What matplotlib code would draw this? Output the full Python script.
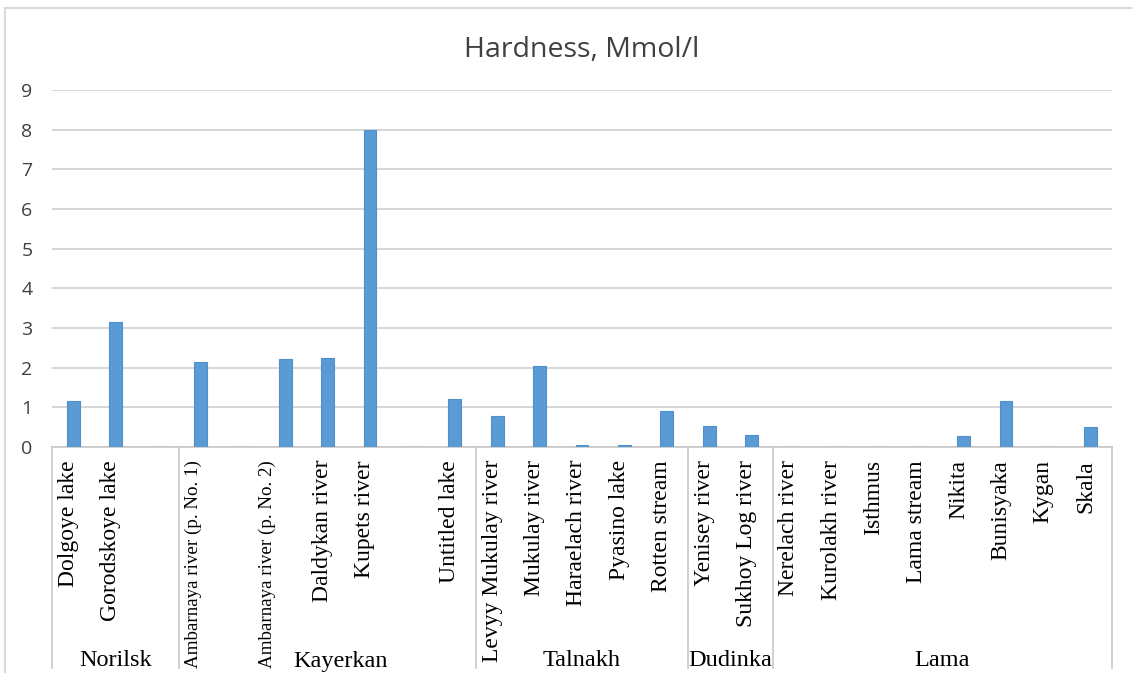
import matplotlib
matplotlib.use("Agg")
import matplotlib.pyplot as plt
from matplotlib.lines import Line2D
import matplotlib.transforms as mtransforms

# Water bodies (empty strings are unlabeled slots on the category axis)
sites = [
    "Dolgoye lake", "Gorodskoye lake", "",
    "Ambarnaya river (p. No. 1)", "", "Ambarnaya river (p. No. 2)",
    "Daldykan river", "Kupets river", "", "Untitled lake",
    "Levyy Mukulay river", "Mukulay river", "Haraelach river",
    "Pyasino lake", "Rotten stream",
    "Yenisey river", "Sukhoy Log river",
    "Nerelach river", "Kurolakh river", "Isthmus", "Lama stream",
    "Nikita", "Bunisyaka", "Kygan", "Skala",
]
hardness = [
    1.15, 3.14, 0.0,
    2.14, 0.0, 2.22,
    2.25, 8.0, 0.0, 1.2,
    0.78, 2.05, 0.06,
    0.06, 0.92,
    0.53, 0.31,
    0.0, 0.0, 0.0, 0.0,
    0.28, 1.17, 0.0, 0.5,
]
districts = ["Norilsk", "Kayerkan", "Talnakh", "Dudinka", "Lama"]
district_sizes = [3, 7, 5, 2, 8]

W, H = 1132, 678
fig = plt.figure(figsize=(W / 100, H / 100), dpi=100)
fig.patch.set_facecolor("white")

left, right, bottom, top = 52 / W, 1112 / W, 1 - 447 / H, 1 - 90 / H
ax = fig.add_axes([left, bottom, right - left, top - bottom])

x = list(range(len(sites)))
ax.bar(x, hardness, width=0.3, color="#5b9bd5", edgecolor="#4f8fca",
       linewidth=0.8, zorder=3)

ax.set_xlim(-0.5, len(sites) - 0.5)
ax.set_ylim(0, 9)
ax.set_yticks(range(0, 10))
ax.tick_params(axis="y", length=0, pad=14, labelsize=14, labelcolor="#404040")
for t in ax.get_yticklabels():
    t.set_fontfamily("Open Sans")
ax.set_xticks([])
ax.grid(axis="y", color="#d0d0d0", linewidth=1.2, zorder=0)
for side in ["top", "right", "left"]:
    ax.spines[side].set_visible(False)
ax.spines["bottom"].set_color("#c8c8c8")
ax.spines["bottom"].set_linewidth(1.2)

ax.set_title("Hardness, Mmol/l", fontsize=20.5, fontfamily="Open Sans",
             color="#404040", pad=24)

trans = mtransforms.blended_transform_factory(ax.transData, ax.transAxes)
axis_h = (447 - 90)

# Category labels, rotated and hung from the axis line;
# the two long Ambarnaya labels are set smaller and nudged apart
nudge = {"Ambarnaya river (p. No. 1)": -0.17,
         "Ambarnaya river (p. No. 2)": -0.43}
for i, name in enumerate(sites):
    if not name:
        continue
    size = 13.7 if name in nudge else 17
    shift = nudge.get(name, -0.12)
    ax.text(i + shift, -13 / axis_h, name, transform=trans, rotation=90,
            ha="center", va="top", fontsize=size,
            fontfamily="Liberation Serif", color="black")

# District separators and district labels
line_bottom = -(668 - 447) / axis_h
edges = [-0.5]
for n in district_sizes:
    edges.append(edges[-1] + n)
for e in edges:
    ax.add_line(Line2D([e, e], [0, line_bottom], transform=trans,
                       color="#c8c8c8", linewidth=1.2, clip_on=False))
for name, a, b in zip(districts, edges[:-1], edges[1:]):
    cx = (a + b) / 2 + (0.3 if name == "Kayerkan" else 0.0)
    ax.text(cx, -(661 - 447) / axis_h, name, transform=trans,
            ha="center", va="center", fontsize=17.5,
            fontfamily="Liberation Serif", color="black")

# Chart area border
fig.add_artist(Line2D([5 / W, 5 / W], [1 - 8 / H, 1 - 672 / H],
                      transform=fig.transFigure, color="#d9d9d9", linewidth=1.5))
fig.add_artist(Line2D([5 / W, 1.0], [1 - 8 / H, 1 - 8 / H],
                      transform=fig.transFigure, color="#d9d9d9", linewidth=1.5))

fig.savefig("out.png", dpi=100)
